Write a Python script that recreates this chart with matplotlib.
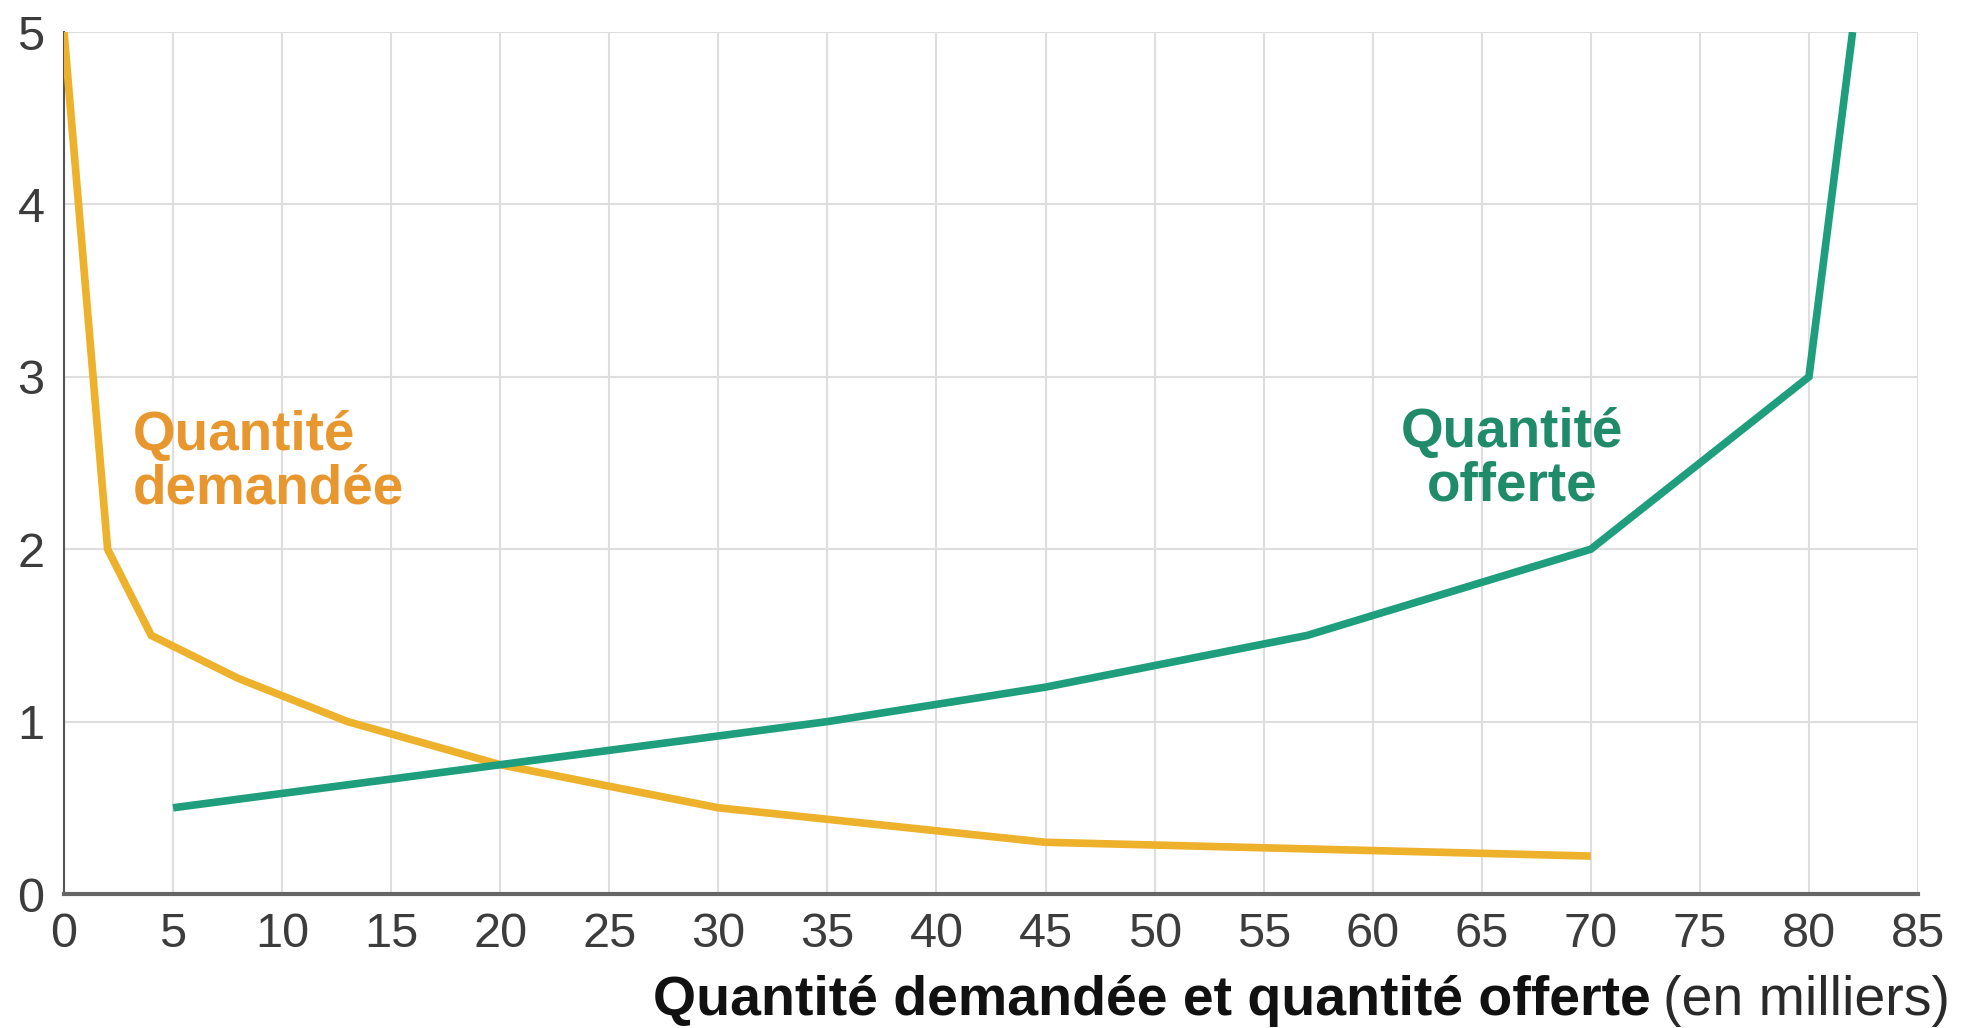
import matplotlib
matplotlib.use("Agg")
import matplotlib.pyplot as plt

plt.rcParams['font.family'] = ['Liberation Sans', 'DejaVu Sans']

# Data
demand_q = [0, 2, 4, 8, 13, 20, 30, 45, 70]
demand_p = [5, 2, 1.5, 1.25, 1.0, 0.75, 0.5, 0.3, 0.22]
supply_q = [5, 20, 35, 45, 57, 70, 80, 82]
supply_p = [0.5, 0.75, 1.0, 1.2, 1.5, 2.0, 3.0, 5.0]
x_ticks = list(range(0, 90, 5))
y_ticks = [0, 1, 2, 3, 4, 5]

demand_color = '#EDB12B'
demand_text = '#E8972E'
supply_color = '#1E9E7C'
supply_text = '#1F8B68'

W, H = 1974, 1028
fig = plt.figure(figsize=(W / 100, H / 100), dpi=100)
ax = fig.add_axes([64 / W, (H - 894) / H, (1918 - 64) / W, (894 - 32) / H])

ax.plot(demand_q, demand_p, color=demand_color, lw=5.5, solid_joinstyle='miter',
        solid_capstyle='butt', zorder=3)
ax.plot(supply_q, supply_p, color=supply_color, lw=5.5, solid_joinstyle='miter',
        solid_capstyle='butt', zorder=3)

ax.set_xlim(0, 85)
ax.set_ylim(0, 5)
ax.set_xticks(x_ticks)
ax.set_yticks(y_ticks)
ax.grid(True, color='#DEDEDE', lw=1.5, zorder=0)
ax.set_axisbelow(True)
ax.tick_params(length=0, labelsize=35, labelcolor='#3C3C3C')
ax.tick_params(axis='x', pad=13)
ax.tick_params(axis='y', pad=14)

for s in ['top', 'right']:
    ax.spines[s].set_visible(False)
ax.spines['left'].set_color('#555555')
ax.spines['left'].set_linewidth(1.5)
ax.spines['bottom'].set_color('#666666')
ax.spines['bottom'].set_linewidth(3)

ax.text(3.15, 2.50, 'Quantité\ndemandée', color=demand_text, fontsize=39.5,
        fontweight='bold', ha='left', va='center', linespacing=1.05)
ax.text(66.4, 2.52, 'Quantité\nofferte', color=supply_text, fontsize=39.5,
        fontweight='bold', ha='center', va='center', linespacing=1.05)

t_norm = fig.text(1950 / W, 13 / H, '(en milliers)', fontsize=40, color='#2A2A2A',
                  ha='right', va='baseline')
fig.canvas.draw()
bb = t_norm.get_window_extent(renderer=fig.canvas.get_renderer())
fig.text((bb.x0 - 12) / W, 13 / H, 'Quantité demandée et quantité offerte',
         fontsize=40, fontweight='bold', color='#111111', ha='right', va='baseline')

fig.savefig('out.png', dpi=100, facecolor='white')
